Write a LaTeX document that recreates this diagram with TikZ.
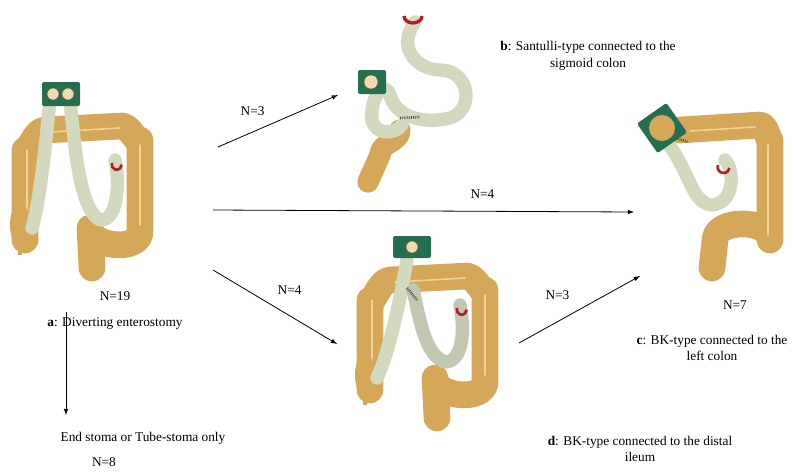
\documentclass[tikz,border=0pt]{standalone}
\usepackage{fontspec}
\setmainfont{Liberation Serif}
\begin{document}
\begin{tikzpicture}[x=0.75pt,y=-0.75pt,
 lab/.style={font=\fontsize{10}{12.5}\selectfont, align=center},
 arr/.style={-latex, line width=0.6pt},
 colon/.style={draw=gold, line width=20pt, line cap=round, line join=round},
 haus/.style={draw=goldl, line width=1.2pt, line cap=round},
 ileum/.style={draw=ilm, line width=10pt, line cap=round, line join=round},
 plate/.style={fill=pgreen, rounded corners=1.5pt},
 stomab/.style={fill=stm, draw=brown!60!black, line width=0.3pt}]
\definecolor{gold}{RGB}{212,168,88}
\definecolor{goldl}{RGB}{238,212,150}
\definecolor{ilm}{RGB}{211,217,190}
\definecolor{pgreen}{RGB}{38,110,80}
\definecolor{stm}{RGB}{236,220,175}
\definecolor{redc}{RGB}{180,30,40}
\useasboundingbox (0,0) rectangle (797,472);

% ---------- panel a ----------
\begin{scope}
 \draw[colon] (92,268) -- (90,228) to[out=-90,in=-90] (140,232) -- (140,140) to[out=-90,in=0] (122,126) -- (45,130) to[out=180,in=-90] (25,150) -- (25,240);
 \draw[haus] (140,225) -- (140,145) (120,128) -- (50,132) (27,150) -- (27,235);
 \fill[gold] (20,225) ellipse (10 and 22);
 \draw[gold, line width=3pt] (20,245) -- (20,255);
 \draw[ileum] (50,100) .. controls (45,150) and (40,200) .. (32,228);
 \draw[ileum] (70,100) .. controls (75,150) and (80,210) .. (100,220) .. controls (118,222) and (120,180) .. (115,160);
 \draw[redc, line width=2pt] (112,163) arc (200:0:5);
 \fill[plate] (42,82) rectangle (80,106);
 \fill[stomab] (53,94) circle (6); \fill[stomab] (68,94) circle (6);
\end{scope}

% ---------- panel b ----------
\begin{scope}
 \draw[colon, line width=16pt] (400,130) to[out=-90,in=90] (380,155) -- (368,182);
 \draw[ileum] (415,22) .. controls (395,50) and (420,70) .. (440,70) .. controls (470,70) and (475,110) .. (450,118) .. controls (420,125) and (395,115) .. (390,95) .. controls (385,80) and (370,95) .. (372,120) .. controls (375,135) and (395,135) .. (402,125);
 \draw[redc, line width=2.5pt] (404,16) arc (180:0:9 and 7);
 \draw[black!70, dash pattern=on 0.6pt off 0.8pt, line width=2pt] (400,118) -- (420,117);
 \fill[plate] (358,70) rectangle (386,94);
 \fill[stomab] (371,82) circle (7);
\end{scope}

% ---------- panel c ----------
\begin{scope}
 \draw[colon] (680,130) -- (760,125) to[out=0,in=-90] (770,140) -- (770,240) to[out=90,in=90] (715,240) -- (712,268);
 \draw[haus] (690,131) -- (755,127) (768,145) -- (768,235);
 \draw[ileum] (665,140) .. controls (690,170) and (690,200) .. (710,205) .. controls (735,205) and (735,170) .. (725,160);
 \draw[redc, line width=2pt] (718,165) arc (200:10:6);
 \fill[plate, rotate around={35:(662,128)}] (644,110) rectangle (680,146);
 \fill[gold] (662,128) circle (13);
 \draw[black!70, dash pattern=on 0.6pt off 0.8pt, line width=2pt] (676,138) -- (688,142);
\end{scope}

% ---------- panel d ----------
\begin{scope}[shift={(345,150)}]
 \draw[colon] (92,268) -- (90,228) to[out=-90,in=-90] (140,232) -- (140,140) to[out=-90,in=0] (122,126) -- (45,130) to[out=180,in=-90] (25,150) -- (25,240);
 \draw[haus] (140,225) -- (140,145) (120,128) -- (50,132) (27,150) -- (27,235);
 \fill[gold] (20,225) ellipse (10 and 22);
 \draw[gold, line width=3pt] (20,245) -- (20,255);
 \draw[ileum] (62,110) .. controls (55,150) and (45,200) .. (32,228);
 \draw[ileum, draw=ilm!80!gray] (68,140) .. controls (75,170) and (80,205) .. (100,212) .. controls (118,212) and (120,180) .. (115,155);
 \draw[redc, line width=2pt] (112,158) arc (200:0:5);
 \draw[black!70, dash pattern=on 0.6pt off 0.8pt, line width=2pt] (62,138) -- (72,150);
 \fill[plate] (48,86) rectangle (86,108);
 \fill[stomab] (67,97) circle (6);
\end{scope}

% ---------- labels ----------
\node[lab] (na) at (115,296) {N=19};
\node[lab] (ta) at (115,324) {\textbf{a}: Diverting enterostomy};
\node[lab] (te) at (143,438) {End stoma or Tube-stoma only};
\node[lab] (ne) at (104,462) {N=8};
\node[lab] (tb) at (588,56) {\textbf{b}: Santulli-type connected to the\\sigmoid colon};
\node[lab] (nc) at (735,305) {N=7};
\node[lab] (tc) at (712,348) {\textbf{c}: BK-type connected to the\\left colon};
\node[lab] (td) at (640,449) {\textbf{d}: BK-type connected to the distal\\ileum};

% ---------- connectors ----------
\coordinate (a1) at (218,147); \coordinate (b1) at (338,95);
\coordinate (a2) at (213,210); \coordinate (c2) at (634,212);
\coordinate (a3) at (213,270); \coordinate (d3) at (337,344);
\coordinate (d4) at (519,343); \coordinate (c4) at (640,276);
\coordinate (a5) at (66,312); \coordinate (e5) at (66,415);
\draw[arr] (a1) -- node[lab, above left=2pt, pos=0.45] {N=3} (b1);
\draw[arr] (a2) -- node[lab, above=6pt, pos=0.64] {N=4} (c2);
\draw[arr] (a3) -- node[lab, above right=3pt, pos=0.45] {N=4} (d3);
\draw[arr] (d4) -- node[lab, above left=4pt, pos=0.5] {N=3} (c4);
\draw[arr] (a5) -- (e5);
\end{tikzpicture}
\end{document}
